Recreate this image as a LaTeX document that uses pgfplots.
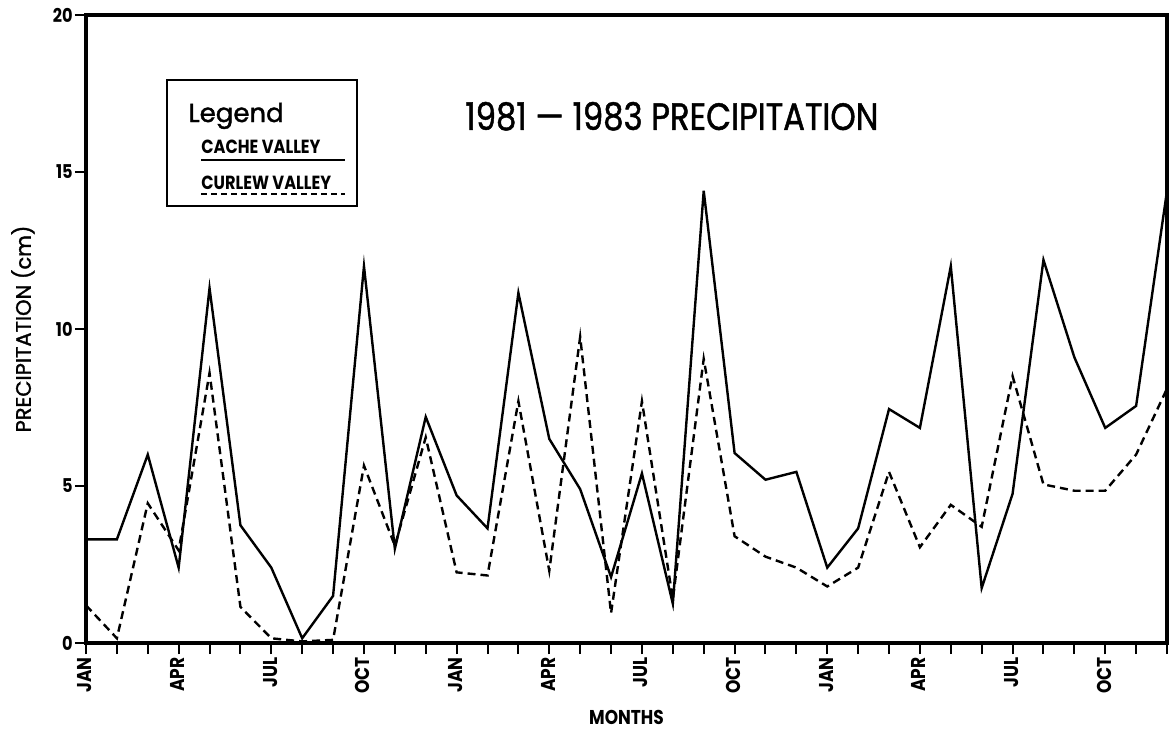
\documentclass[border=0pt]{standalone}
\usepackage{fontspec}
\setmainfont{Poppins}
\newfontfamily\narrowfont[FakeStretch=0.85]{Poppins}
\newfontfamily\titlefont[FakeStretch=0.85, FakeBold=1.2]{Poppins}
\newfontfamily\labfont[FakeBold=1.5]{Poppins}
\usepackage{pgfplots}
\pgfplotsset{compat=1.18}
\pgfplotstableread{
m cache curlew
0 3.3 1.2
1 3.3 0.15
2 6.0 4.45
3 2.4 2.95
4 11.3 8.6
5 3.75 1.15
6 2.4 0.15
7 0.15 0.05
8 1.5 0.1
9 12.0 5.65
10 3.0 3.1
11 7.2 6.55
12 4.7 2.25
13 3.65 2.15
14 11.15 7.7
15 6.5 2.3
16 4.9 9.75
17 2.1 0.95
18 5.4 7.7
19 1.25 1.4
20 14.4 9.05
21 6.05 3.4
22 5.2 2.75
23 5.45 2.4
24 2.4 1.8
25 3.65 2.4
26 7.45 5.45
27 6.85 3.05
28 12.0 4.4
29 1.75 3.7
30 4.75 8.5
31 12.2 5.05
32 9.1 4.85
33 6.85 4.85
34 7.55 6.0
35 14.4 8.1
}\datatable
\begin{document}
\begin{tikzpicture}
\begin{axis}[
  scale only axis,
  width=540.5bp, height=314bp,
  xmin=0, xmax=35, ymin=0, ymax=20,
  axis line style={line width=2bp},
  xtick={0,3,...,33},
  minor xtick={0,...,35},
  xticklabels={JAN,APR,JUL,OCT,JAN,APR,JUL,OCT,JAN,APR,JUL,OCT},
  ytick={0,5,10,15,20},
  xtick pos=lower, ytick pos=left,
  tick align=outside,
  major tick length=5.5bp, minor tick length=5.5bp,
  every tick/.style={black, line width=1bp},
  /pgf/number format/assume math mode=true,
  tick label style={font=\narrowfont\bfseries\fontsize{9.5bp}{10bp}\selectfont, inner sep=1bp},
  xticklabel style={font=\narrowfont\bfseries\fontsize{10bp}{10bp}\selectfont, rotate=90, anchor=base east, xshift=-0.5bp, yshift=-3bp},
  every axis x label/.style={at={(rel axis cs:0.5,0)}, anchor=center, yshift=-37bp},
  every axis y label/.style={at={(rel axis cs:-0.0583,0.5)}, anchor=center, rotate=90},
  xlabel={\narrowfont\bfseries\fontsize{10bp}{11bp}\selectfont MONTHS},
  ylabel={\labfont\fontsize{10.5bp}{11bp}\selectfont PRECIPITATION (cm)},
  clip=false,
]
\addplot[black, line width=1.2bp] table[x=m, y=cache] {\datatable};
\addplot[black, line width=1.2bp, dash pattern=on 4bp off 2.5bp] table[x=m, y=curlew] {\datatable};
\draw[line width=1.3bp] (rel axis cs:0.075,0.696) rectangle (rel axis cs:0.2507,0.8965);
\node[anchor=base west, inner sep=0pt, font=\labfont\fontsize{13bp}{14bp}\selectfont] at (rel axis cs:0.0944,0.8296) {Legend};
\node[anchor=base west, inner sep=0pt, font=\narrowfont\bfseries\fontsize{9.5bp}{10bp}\selectfont] at (rel axis cs:0.1064,0.7787) {CACHE VALLEY};
\draw[line width=1bp] (rel axis cs:0.1064,0.769) -- (rel axis cs:0.2396,0.769);
\node[anchor=base west, inner sep=0pt, font=\narrowfont\bfseries\fontsize{9.5bp}{10bp}\selectfont] at (rel axis cs:0.1064,0.7229) {CURLEW VALLEY};
\draw[line width=1bp, dash pattern=on 3bp off 2bp] (rel axis cs:0.1064,0.715) -- (rel axis cs:0.2396,0.715);
\node[anchor=base, inner sep=0pt, font=\titlefont\fontsize{19bp}{20bp}\selectfont] at (rel axis cs:0.542,0.817) {1981 \textemdash\ 1983 PRECIPITATION};
\end{axis}
\pgfresetboundingbox
\path (-43bp,-43bp) rectangle (541.5bp,321.5bp);
\end{tikzpicture}
\end{document}
